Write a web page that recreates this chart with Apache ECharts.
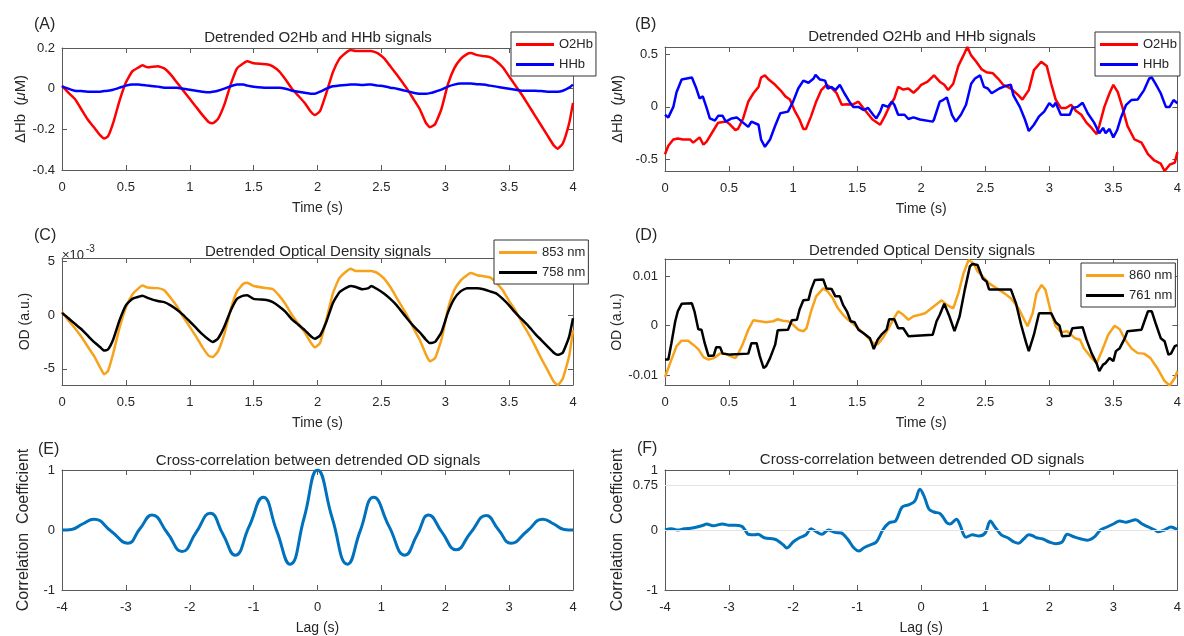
<!DOCTYPE html>
<html><head><meta charset="utf-8">
<script src="https://cdn.jsdelivr.net/npm/echarts@6/dist/echarts.min.js"></script>
<style>html,body{margin:0;padding:0;background:#fff}#c{width:1184px;height:636px}</style>
</head><body><div id="c"></div>
<script>
// ---------------- DATA ----------------
// Panels A and C share one time grid (s)
const timeL = [0,0.05,0.1,0.15,0.2,0.25,0.3,0.33,0.36,0.4,0.45,0.5,0.55,0.6,0.63,0.67,0.75,0.8,0.85,0.9,0.95,1.0,1.05,1.1,1.15,1.18,1.22,1.27,1.32,1.37,1.42,1.45,1.5,1.6,1.65,1.7,1.75,1.8,1.85,1.9,1.95,1.98,2.02,2.07,2.12,2.17,2.22,2.26,2.3,2.35,2.4,2.42,2.47,2.52,2.57,2.62,2.7,2.75,2.8,2.85,2.88,2.92,2.97,3.02,3.07,3.12,3.17,3.2,3.25,3.3,3.35,3.4,3.45,3.5,3.55,3.6,3.65,3.7,3.75,3.8,3.85,3.88,3.92,3.97,4.0];
// (A) ΔHb, µM
const o2hbA = [0.015,-0.02,-0.05,-0.1,-0.15,-0.19,-0.23,-0.245,-0.235,-0.17,-0.06,0.03,0.085,0.105,0.115,0.105,0.11,0.1,0.07,0.03,-0.01,-0.05,-0.09,-0.13,-0.165,-0.17,-0.15,-0.08,0.02,0.1,0.125,0.135,0.125,0.12,0.11,0.085,0.045,0.0,-0.035,-0.07,-0.115,-0.13,-0.11,-0.02,0.08,0.145,0.175,0.19,0.185,0.185,0.185,0.185,0.175,0.15,0.11,0.07,0.0,-0.05,-0.1,-0.17,-0.19,-0.175,-0.1,0.02,0.1,0.145,0.17,0.175,0.165,0.16,0.155,0.135,0.105,0.06,0.015,-0.03,-0.08,-0.13,-0.18,-0.23,-0.28,-0.295,-0.27,-0.17,-0.07];
const hhbA = [0.01,0.0,-0.01,-0.012,-0.015,-0.015,-0.015,-0.012,-0.01,-0.005,0.005,0.015,0.02,0.02,0.018,0.015,0.01,0.005,0.005,0.005,0.0,-0.005,-0.01,-0.015,-0.018,-0.015,-0.01,0.0,0.012,0.02,0.02,0.015,0.01,0.005,0.005,0.005,0.0,-0.01,-0.015,-0.02,-0.025,-0.025,-0.015,0.0,0.012,0.015,0.018,0.02,0.02,0.018,0.02,0.02,0.015,0.012,0.005,0.0,-0.012,-0.02,-0.025,-0.025,-0.022,-0.015,-0.005,0.01,0.02,0.025,0.025,0.025,0.022,0.02,0.015,0.01,0.005,0.0,-0.005,-0.01,-0.01,-0.01,-0.012,-0.015,-0.015,-0.015,-0.01,0.005,0.02];
// (C) OD, units of 1e-3
const od853C = [0.3,-0.5,-1.2,-2.0,-2.9,-3.8,-4.9,-5.5,-5.2,-3.6,-1.2,0.7,1.9,2.5,2.75,2.55,2.5,2.3,1.6,0.8,-0.2,-1.1,-2.0,-3.0,-3.8,-3.9,-3.4,-1.8,0.5,2.2,2.9,3.0,2.7,2.5,2.4,1.8,1.0,0.0,-0.8,-1.6,-2.6,-3.0,-2.6,-0.4,2.0,3.4,4.0,4.3,4.1,4.1,4.1,4.1,3.9,3.4,2.6,1.6,0.0,-1.2,-2.3,-3.7,-4.3,-4.0,-2.3,0.5,2.3,3.2,3.7,3.9,3.7,3.6,3.5,3.0,2.3,1.3,0.4,-0.7,-1.7,-2.8,-4.0,-5.1,-6.2,-6.5,-5.9,-3.8,-1.4];
const od758C = [0.2,-0.3,-0.8,-1.3,-1.9,-2.5,-3.0,-3.3,-3.2,-2.3,-0.5,0.9,1.5,1.7,1.8,1.6,1.3,1.2,0.9,0.5,0.0,-0.6,-1.2,-1.8,-2.3,-2.5,-2.2,-1.1,0.4,1.5,1.8,1.85,1.5,1.4,1.2,0.8,0.3,-0.4,-0.9,-1.4,-2.0,-2.2,-1.9,-0.6,1.1,2.1,2.5,2.7,2.6,2.4,2.5,2.7,2.4,2.0,1.5,0.9,-0.3,-1.0,-1.6,-2.3,-2.6,-2.5,-1.6,0.2,1.5,2.2,2.5,2.5,2.5,2.4,2.2,2.0,1.5,0.9,0.2,-0.4,-1.0,-1.7,-2.3,-2.9,-3.5,-3.7,-3.5,-2.0,-0.3];
// (B) [time s, ΔHb µM]
const o2hbB = [[0,-0.45],[0.026,-0.37],[0.065,-0.31],[0.1,-0.30],[0.14,-0.31],[0.195,-0.31],[0.22,-0.34],[0.27,-0.29],[0.3,-0.36],[0.325,-0.33],[0.38,-0.22],[0.415,-0.15],[0.48,-0.14],[0.51,-0.17],[0.55,-0.22],[0.57,-0.21],[0.61,-0.11],[0.65,0.05],[0.69,0.13],[0.73,0.19],[0.75,0.28],[0.78,0.30],[0.81,0.26],[0.86,0.21],[0.9,0.16],[0.94,0.10],[0.975,0.07],[1.01,-0.03],[1.05,-0.12],[1.08,-0.21],[1.1,-0.21],[1.14,-0.09],[1.18,0.05],[1.22,0.16],[1.26,0.21],[1.3,0.18],[1.34,0.13],[1.38,0.02],[1.42,0.025],[1.46,0.02],[1.51,0.05],[1.56,-0.03],[1.62,-0.12],[1.68,-0.17],[1.715,-0.09],[1.75,0.0],[1.79,0.08],[1.82,0.19],[1.86,0.165],[1.9,0.175],[1.94,0.135],[1.98,0.18],[2.0,0.21],[2.05,0.24],[2.1,0.30],[2.145,0.24],[2.18,0.21],[2.21,0.16],[2.25,0.22],[2.29,0.39],[2.33,0.49],[2.36,0.57],[2.39,0.49],[2.43,0.43],[2.47,0.36],[2.51,0.33],[2.56,0.32],[2.6,0.27],[2.64,0.21],[2.7,0.175],[2.76,0.11],[2.79,0.07],[2.84,0.16],[2.88,0.35],[2.937,0.43],[2.98,0.39],[3.015,0.22],[3.05,0.07],[3.09,-0.01],[3.13,-0.01],[3.17,0.02],[3.21,-0.04],[3.25,-0.075],[3.29,-0.15],[3.33,-0.2],[3.37,-0.26],[3.39,-0.18],[3.43,0.0],[3.47,0.13],[3.5,0.21],[3.535,0.14],[3.57,0.0],[3.61,-0.18],[3.665,-0.31],[3.72,-0.34],[3.77,-0.45],[3.82,-0.51],[3.87,-0.54],[3.9,-0.61],[3.94,-0.55],[3.98,-0.53],[4.0,-0.43]];
const hhbB = [[0,-0.075],[0.026,-0.1],[0.065,0.0],[0.09,0.14],[0.13,0.26],[0.17,0.27],[0.21,0.28],[0.245,0.175],[0.27,0.08],[0.295,0.1],[0.325,-0.01],[0.35,-0.11],[0.39,-0.13],[0.415,-0.085],[0.45,-0.085],[0.475,-0.14],[0.52,-0.11],[0.56,-0.1],[0.6,-0.14],[0.65,-0.19],[0.675,-0.14],[0.73,-0.17],[0.75,-0.31],[0.78,-0.38],[0.82,-0.31],[0.86,-0.18],[0.9,-0.06],[0.96,-0.045],[1.0,0.05],[1.04,0.175],[1.08,0.25],[1.12,0.23],[1.16,0.27],[1.175,0.305],[1.21,0.26],[1.25,0.25],[1.27,0.175],[1.3,0.19],[1.33,0.16],[1.365,0.21],[1.4,0.13],[1.44,0.05],[1.47,0.0],[1.51,0.0],[1.55,-0.03],[1.585,-0.01],[1.625,-0.075],[1.65,-0.11],[1.68,-0.045],[1.7,0.02],[1.74,0.0],[1.77,0.05],[1.79,0.02],[1.82,-0.075],[1.87,-0.075],[1.9,-0.115],[1.94,-0.1],[1.99,-0.12],[2.09,-0.14],[2.1,-0.12],[2.145,0.05],[2.17,0.065],[2.2,0.09],[2.24,-0.075],[2.27,-0.14],[2.31,-0.075],[2.35,0.02],[2.39,0.22],[2.42,0.27],[2.46,0.3],[2.49,0.19],[2.52,0.175],[2.55,0.13],[2.61,0.175],[2.66,0.2],[2.7,0.21],[2.72,0.11],[2.77,0.0],[2.81,-0.12],[2.84,-0.23],[2.88,-0.17],[2.92,-0.09],[2.96,-0.045],[3.0,0.035],[3.03,0.0],[3.05,0.04],[3.09,-0.075],[3.16,-0.075],[3.18,-0.01],[3.22,0.0],[3.26,0.04],[3.3,-0.06],[3.35,-0.15],[3.39,-0.25],[3.42,-0.2],[3.44,-0.25],[3.47,-0.21],[3.5,-0.29],[3.53,-0.22],[3.56,-0.1],[3.6,0.02],[3.64,0.065],[3.69,0.07],[3.74,0.16],[3.78,0.27],[3.8,0.28],[3.83,0.22],[3.87,0.13],[3.91,0.0],[3.94,0.0],[3.97,0.065],[4.0,0.035]];
// (D) [time s, OD in units of 1e-3]
const od860D = [[0,-10.3],[0.04,-7.5],[0.09,-4.1],[0.13,-3.0],[0.18,-3.0],[0.22,-3.8],[0.26,-4.7],[0.3,-6.3],[0.34,-6.8],[0.38,-6.5],[0.43,-5.6],[0.47,-5.6],[0.51,-6.1],[0.55,-6.5],[0.57,-5.7],[0.61,-3.5],[0.65,-0.8],[0.69,1.1],[0.74,0.9],[0.79,0.7],[0.845,0.9],[0.88,1.3],[0.92,1.0],[0.96,0.9],[1.0,0.2],[1.04,-0.8],[1.08,-1.1],[1.105,-0.5],[1.14,2.9],[1.18,5.9],[1.235,7.5],[1.27,6.9],[1.31,5.5],[1.35,3.5],[1.39,2.2],[1.43,1.2],[1.47,0.4],[1.52,-0.8],[1.57,-2.0],[1.625,-3.5],[1.66,-3.7],[1.7,-2.5],[1.74,-0.8],[1.78,1.2],[1.82,2.9],[1.86,2.2],[1.9,1.2],[1.94,1.9],[1.99,2.2],[2.03,2.5],[2.1,3.9],[2.16,5.1],[2.2,4.2],[2.25,3.5],[2.29,6.5],[2.33,10.5],[2.37,13.2],[2.41,12.5],[2.44,10.9],[2.48,9.9],[2.53,8.5],[2.59,7.5],[2.65,6.5],[2.7,5.5],[2.76,3.5],[2.81,0.9],[2.83,-0.1],[2.87,2.5],[2.9,6.5],[2.94,8.2],[2.97,7.2],[3.015,2.5],[3.05,-0.1],[3.09,-1.3],[3.14,-1.1],[3.2,-2.5],[3.24,-2.8],[3.27,-4.5],[3.33,-6.5],[3.37,-7.5],[3.41,-5.1],[3.46,-1.8],[3.51,0.0],[3.55,-0.7],[3.59,-2.7],[3.64,-4.5],[3.69,-5.5],[3.74,-5.6],[3.79,-6.5],[3.85,-8.8],[3.9,-11.1],[3.94,-12.0],[3.98,-10.5],[4.0,-9.1]];
const od761D = [[0,-6.8],[0.026,-6.8],[0.05,-3.5],[0.08,0.9],[0.1,2.9],[0.13,4.4],[0.21,4.5],[0.23,2.9],[0.26,-0.7],[0.285,-0.8],[0.31,-3.5],[0.34,-6.1],[0.38,-6.0],[0.4,-4.3],[0.43,-4.3],[0.45,-5.6],[0.51,-5.8],[0.65,-5.6],[0.675,-3.5],[0.715,-3.5],[0.74,-6.1],[0.77,-8.5],[0.79,-8.1],[0.82,-6.5],[0.86,-3.8],[0.88,-0.9],[0.96,-0.8],[0.99,1.1],[1.03,1.2],[1.05,3.2],[1.08,5.1],[1.12,5.2],[1.14,7.2],[1.17,9.2],[1.235,9.3],[1.26,7.5],[1.3,7.4],[1.33,5.9],[1.365,5.9],[1.39,4.2],[1.42,2.9],[1.45,0.9],[1.48,0.7],[1.51,-0.8],[1.55,-1.5],[1.6,-2.5],[1.63,-4.7],[1.66,-2.8],[1.69,-1.8],[1.73,-0.8],[1.75,1.3],[1.79,1.3],[1.82,-0.5],[1.86,-0.5],[1.9,-2.1],[2.09,-1.8],[2.12,0.9],[2.145,2.2],[2.18,4.4],[2.22,1.9],[2.26,-1.1],[2.3,1.9],[2.34,7.2],[2.38,11.9],[2.4,12.4],[2.44,12.2],[2.48,9.5],[2.51,8.9],[2.53,7.3],[2.7,7.3],[2.74,4.5],[2.78,0.2],[2.82,-3.5],[2.84,-5.1],[2.88,-1.8],[2.92,2.5],[3.015,2.5],[3.05,0.7],[3.08,0.0],[3.1,-2.1],[3.16,-2.0],[3.18,-0.5],[3.26,-0.3],[3.29,-2.8],[3.33,-5.5],[3.37,-7.6],[3.39,-9.1],[3.42,-7.8],[3.44,-7.5],[3.47,-6.5],[3.5,-7.1],[3.52,-5.1],[3.55,-4.5],[3.59,-2.5],[3.61,-1.1],[3.72,-0.8],[3.74,0.7],[3.77,2.9],[3.8,2.9],[3.83,0.5],[3.87,-2.5],[3.9,-3.1],[3.93,-5.8],[3.95,-5.6],[3.98,-4.1],[4.0,-3.9]];
// (E), (F) [lag s, correlation]
const xcorrE = [[-4,0],[-3.85,0.01],[-3.68,0.1],[-3.5,0.18],[-3.23,-0.02],[-2.97,-0.22],[-2.78,0.02],[-2.59,0.25],[-2.35,-0.05],[-2.12,-0.36],[-1.9,-0.04],[-1.68,0.28],[-1.48,-0.07],[-1.29,-0.42],[-1.07,0.06],[-0.85,0.545],[-0.64,-0.01],[-0.43,-0.57],[-0.21,0.2],[0,1.0],[0.23,0.2],[0.47,-0.57],[0.67,-0.01],[0.88,0.545],[1.12,0.06],[1.37,-0.42],[1.56,-0.08],[1.74,0.25],[1.95,-0.04],[2.17,-0.33],[2.4,-0.04],[2.64,0.24],[2.83,0.01],[3.03,-0.22],[3.28,-0.02],[3.53,0.18],[3.7,0.1],[3.86,0.01],[4,0]];
const xcorrF = [[-4,0.0],[-3.9,0.02],[-3.8,0.0],[-3.7,0.02],[-3.6,0.03],[-3.5,0.05],[-3.4,0.08],[-3.35,0.1],[-3.25,0.07],[-3.1,0.1],[-3.0,0.08],[-2.9,0.08],[-2.8,0.06],[-2.75,0.0],[-2.7,-0.07],[-2.6,-0.08],[-2.55,-0.07],[-2.45,-0.13],[-2.3,-0.15],[-2.25,-0.17],[-2.15,-0.25],[-2.1,-0.3],[-2.0,-0.2],[-1.9,-0.13],[-1.8,-0.08],[-1.72,0.02],[-1.65,-0.02],[-1.55,-0.07],[-1.45,0.0],[-1.35,-0.04],[-1.25,-0.05],[-1.15,-0.15],[-1.05,-0.3],[-0.97,-0.35],[-0.9,-0.3],[-0.8,-0.25],[-0.7,-0.2],[-0.6,0.0],[-0.5,0.12],[-0.4,0.15],[-0.3,0.38],[-0.2,0.42],[-0.1,0.48],[-0.02,0.68],[0.05,0.55],[0.12,0.35],[0.2,0.3],[0.3,0.27],[0.4,0.12],[0.45,0.1],[0.55,0.18],[0.6,0.1],[0.7,-0.12],[0.8,-0.08],[0.9,-0.1],[1.0,-0.05],[1.08,0.15],[1.15,0.05],[1.25,-0.08],[1.35,-0.13],[1.45,-0.2],[1.52,-0.22],[1.6,-0.15],[1.68,-0.08],[1.75,-0.1],[1.8,-0.13],[1.9,-0.15],[2.0,-0.2],[2.1,-0.23],[2.2,-0.2],[2.28,-0.07],[2.4,-0.12],[2.5,-0.15],[2.6,-0.17],[2.7,-0.12],[2.8,0.0],[2.9,0.05],[3.0,0.1],[3.1,0.15],[3.2,0.13],[3.35,0.17],[3.45,0.1],[3.55,0.05],[3.65,0.0],[3.7,-0.03],[3.8,0.0],[3.9,0.05],[4.0,0.0]];
const refLinesF = [0, 0.75];
// tick values
const ticksTime = {min:0, max:4, interval:0.5};
const ticksLag = {min:-4, max:4, interval:1};
const yTicksB = [-0.5, 0, 0.5];
const yTicksC = [-5, 0, 5];
const yTicksD = [-10, 0, 10];
const yTicksF = [-1, 0, 0.75, 1];

// ---------------- CHART ----------------
const FONT = "'Liberation Sans Narrow','Liberation Sans',Arial,sans-serif";
const TXT = '#262626';
const AX = '#5a5a5a';
const zip = (ts, vs) => ts.map((t, i) => [t, vs[i]]);

const grids = [
  {left:62, top:48, width:511, height:122},
  {left:665, top:47, width:513, height:124},
  {left:62, top:258, width:511, height:127},
  {left:665, top:259, width:513, height:126},
  {left:62, top:470, width:511, height:121},
  {left:665, top:470, width:513, height:121}
];
const HB = 'ΔHb  ({i|μ}M)';
const yDefs = [
  {min:-0.4, max:0.2, interval:0.2, name:HB, gap:30, fs:15},
  {min:-0.61, max:0.57, custom:yTicksB, name:HB, gap:40, fs:15},
  {min:-6.5, max:5.3, custom:yTicksC, name:'OD (a.u.)', gap:30, fs:14},
  {min:-11.9, max:13.4, custom:yTicksD, name:'OD (a.u.)', gap:40, fs:14, fmt:v => String(v/1000)},
  {min:-1, max:1, interval:1, name:'Correlation  Coefficient', gap:30, fs:16},
  {min:-1, max:1, custom:yTicksF, name:'Correlation  Coefficient', gap:39, fs:16}
];
const xDefs = [ticksTime, ticksTime, ticksTime, ticksTime, ticksLag, ticksLag];
const xNames = ['Time (s)','Time (s)','Time (s)','Time (s)','Lag (s)','Lag (s)'];

const xAxis = [], yAxis = [];
grids.forEach((g, i) => {
  const xd = xDefs[i], yd = yDefs[i];
  const line = {show:true, onZero:false, lineStyle:{color:AX, width:1}};
  const tick = {show:true, inside:true, length:5, lineStyle:{color:AX}};
  xAxis.push({type:'value', gridIndex:i, position:'bottom', min:xd.min, max:xd.max, interval:xd.interval,
    axisLine:line, axisTick:tick, splitLine:{show:false},
    axisLabel:{color:TXT, fontFamily:FONT, fontSize:13, margin:11},
    name:xNames[i], nameLocation:'middle', nameGap:31,
    nameTextStyle:{color:TXT, fontFamily:FONT, fontSize:14}});
  xAxis.push({type:'value', gridIndex:i, position:'top', min:xd.min, max:xd.max, interval:xd.interval,
    axisLine:line, axisTick:tick, axisLabel:{show:false}, splitLine:{show:false}});
  const yl = {type:'value', gridIndex:i, position:'left', min:yd.min, max:yd.max,
    axisLine:line, axisTick:Object.assign({}, tick), splitLine:{show:false},
    axisLabel:{color:TXT, fontFamily:FONT, fontSize:13, margin:7},
    name:yd.name, nameLocation:'middle', nameGap:yd.gap, nameRotate:90,
    nameTextStyle:{color:TXT, fontFamily:FONT, fontSize:yd.fs,
      rich:{i:{fontStyle:'italic', color:TXT, fontFamily:FONT, fontSize:yd.fs}}}};
  const yr = {type:'value', gridIndex:i, position:'right', min:yd.min, max:yd.max,
    axisLine:line, axisTick:Object.assign({}, tick), axisLabel:{show:false}, splitLine:{show:false}};
  if (yd.custom) {
    yl.axisTick.customValues = yd.custom; yl.axisLabel.customValues = yd.custom;
    yr.axisTick.customValues = yd.custom; yr.axisLabel.customValues = yd.custom;
  } else { yl.interval = yd.interval; yr.interval = yd.interval; }
  if (yd.fmt) yl.axisLabel.formatter = yd.fmt;
  yAxis.push(yl, yr);
});

function ser(name, panel, data, color, width, smooth) {
  return {type:'line', name, xAxisIndex:2*panel, yAxisIndex:2*panel, data, showSymbol:false,
    symbol:'none', smooth:smooth || false, lineStyle:{color, width}, itemStyle:{color}, z:3, silent:true};
}
const RED = '#ff0000', BLUE = '#0000ff', ORANGE = '#f7a21b', BLACK = '#000000', MBLUE = '#0072bd';
const series = [
  ser('O2Hb', 0, zip(timeL, o2hbA), RED, 2.5, 0.15),
  ser('HHb', 0, zip(timeL, hhbA), BLUE, 2.5, 0.15),
  ser('O2Hb', 1, o2hbB, RED, 2.5, false),
  ser('HHb', 1, hhbB, BLUE, 2.5, false),
  ser('853 nm', 2, zip(timeL, od853C), ORANGE, 2.5, 0.15),
  ser('758 nm', 2, zip(timeL, od758C), BLACK, 2.5, 0.15),
  ser('860 nm', 3, od860D, ORANGE, 2.5, false),
  ser('761 nm', 3, od761D, BLACK, 2.5, false),
  ser('xcorrE', 4, xcorrE, MBLUE, 3, 0.5),
  ser('xcorrF', 5, xcorrF, MBLUE, 3, 0.35),
  {type:'line', name:'refF', xAxisIndex:10, yAxisIndex:10, data:[], z:1, silent:true,
    markLine:{silent:true, symbol:'none', label:{show:false}, animation:false,
      lineStyle:{color:'#e3e3e3', width:1.2, type:'solid'},
      data: refLinesF.map(v => ({yAxis:v}))}}
];

function legend(names, left, top) {
  return {data:names, left, top, orient:'vertical', icon:'rect', itemWidth:38, itemHeight:3, itemGap:7,
    borderColor:'#333', borderWidth:1, backgroundColor:'#fff', padding:[6,3,5,5], selectedMode:false,
    textStyle:{color:TXT, fontFamily:FONT, fontSize:13}};
}

const txt = (text, x, y, size, align) => ({type:'text', x, y, silent:true,
  style:{text, fill:TXT, font:size + 'px ' + FONT, textAlign:align || 'left', textVerticalAlign:'middle'}});

const graphic = [
  txt('(A)', 34, 25, 16), txt('(B)', 635, 25, 16), txt('(C)', 34, 236, 16),
  txt('(D)', 635, 236, 16), txt('(E)', 38, 450, 16), txt('(F)', 637, 449, 16),
  txt('Detrended O2Hb and HHb signals', 318, 38, 15, 'center'),
  txt('Detrended O2Hb and HHb signals', 922, 37, 15, 'center'),
  txt('Detrended Optical Density signals', 318, 252, 15, 'center'),
  txt('Detrended Optical Density signals', 922, 251, 15, 'center'),
  txt('Cross-correlation between detrended OD signals', 318, 461, 15, 'center'),
  txt('Cross-correlation between detrended OD signals', 922, 460, 15, 'center'),
  txt('×10', 62, 255, 13), txt('-3', 86, 249, 10)
];

const chart = echarts.init(document.getElementById('c'), null, {renderer:'canvas'});
chart.setOption({
  animation:false, backgroundColor:'#fff',
  grid: grids, xAxis, yAxis, series,
  legend: [legend(['O2Hb','HHb'], 511, 32), legend(['O2Hb','HHb'], 1095, 32),
           legend(['853 nm','758 nm'], 494, 240), legend(['860 nm','761 nm'], 1081, 263)],
  graphic
});
</script></body></html>
